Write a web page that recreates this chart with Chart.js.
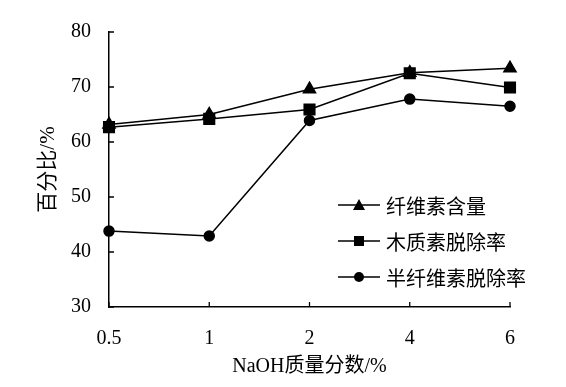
<!DOCTYPE html>
<html>
<head>
<meta charset="utf-8">
<script src="https://cdn.jsdelivr.net/npm/chart.js@4/dist/chart.umd.min.js"></script>
<style>
  html, body { margin: 0; padding: 0; background: #fff; }
  #wrap { position: relative; width: 566px; height: 387px; }
  #legend { position: absolute; left: 338px; top: 187px; font: 20px "Liberation Serif", "Noto Sans CJK SC", serif; color: #000; }
  .row { display: flex; align-items: center; height: 36px; }
  .row canvas { margin-right: 6px; }
</style>
</head>
<body>
<div id="wrap">
  <canvas id="chart" width="566" height="387"></canvas>
  <div id="legend"></div>
</div>
<script>
const categories = ["0.5", "1", "2", "4", "6"];
const celluloseContent = [63.2, 65.0, 69.6, 72.6, 73.4];
const ligninRemoval = [62.7, 64.2, 65.9, 72.5, 69.9];
const hemicelluloseRemoval = [43.8, 42.9, 63.9, 67.8, 66.5];
const yTicks = [30, 40, 50, 60, 70, 80];
const seriesNames = ["纤维素含量", "木质素脱除率", "半纤维素脱除率"];
const markers = ["triangle", "rect", "circle"];
const markerSize = [7, 7.5, 5];

const FONT = '"Liberation Serif", "Noto Sans CJK SC", serif';

// ticks drawn inward, as in the original figure
const inwardTicks = {
  id: "inwardTicks",
  afterDraw(chart) {
    const { ctx, scales: { x, y }, chartArea } = chart;
    ctx.save();
    ctx.strokeStyle = "#000";
    ctx.lineWidth = 1.3;
    ctx.beginPath();
    y.ticks.forEach((t, i) => {
      const py = y.getPixelForTick(i);
      ctx.moveTo(chartArea.left, py);
      ctx.lineTo(chartArea.left + 5, py);
    });
    x.ticks.forEach((t, i) => {
      const px = x.getPixelForTick(i);
      ctx.moveTo(px, chartArea.bottom);
      ctx.lineTo(px, chartArea.bottom - 5);
    });
    ctx.stroke();
    ctx.restore();
  }
};

const values = [celluloseContent, ligninRemoval, hemicelluloseRemoval];

new Chart(document.getElementById("chart"), {
  type: "line",
  data: {
    labels: categories,
    datasets: values.map((v, i) => ({
      label: seriesNames[i],
      data: v,
      borderColor: "#000",
      backgroundColor: "#000",
      borderWidth: 1.5,
      tension: 0,
      pointStyle: markers[i],
      pointRadius: markerSize[i],
      pointHoverRadius: markerSize[i],
    })),
  },
  options: {
    responsive: false,
    animation: false,
    layout: { padding: { top: 32, right: 56, left: 0, bottom: 0 } },
    plugins: { legend: { display: false }, tooltip: { enabled: false } },
    scales: {
      x: {
        afterFit(scale) { scale.height = 80; },
        grid: { display: true, drawOnChartArea: false, drawTicks: false },
        border: { display: true, color: "#000", width: 1.5 },
        ticks: { color: "#000", padding: 20, font: { family: FONT, size: 20 } },
        title: { display: true, text: "NaOH质量分数/%", color: "#000", padding: { top: 0, bottom: 8 }, font: { family: FONT, size: 20 } },
      },
      y: {
        min: yTicks[0],
        max: yTicks[yTicks.length - 1],
        afterFit(scale) { scale.width = 109; },
        afterBuildTicks(scale) { scale.ticks = yTicks.map(v => ({ value: v })); },
        grid: { display: true, drawOnChartArea: false, drawTicks: false },
        border: { display: true, color: "#000", width: 1.5 },
        ticks: { color: "#000", padding: 18, font: { family: FONT, size: 20 } },
        title: { display: true, text: "百分比/%", color: "#000", padding: { top: 36, bottom: 0 }, font: { family: FONT, size: 21 } },
      },
    },
  },
  plugins: [inwardTicks],
});

// legend: short line with the series marker, then the name
const legend = document.getElementById("legend");
seriesNames.forEach((name, i) => {
  const row = document.createElement("div");
  row.className = "row";
  const c = document.createElement("canvas");
  c.width = 42; c.height = 14;
  const g = c.getContext("2d");
  g.strokeStyle = "#000"; g.fillStyle = "#000"; g.lineWidth = 1.5;
  g.beginPath(); g.moveTo(0, 7); g.lineTo(42, 7); g.stroke();
  g.beginPath();
  if (markers[i] === "triangle") { g.moveTo(21, 1); g.lineTo(27, 12); g.lineTo(15, 12); g.closePath(); }
  else if (markers[i] === "rect") { g.rect(16, 2, 10, 10); }
  else { g.arc(21, 7, 5, 0, Math.PI * 2); }
  g.fill();
  row.appendChild(c);
  const s = document.createElement("span");
  s.textContent = name;
  row.appendChild(s);
  legend.appendChild(row);
});
</script>
</body>
</html>
